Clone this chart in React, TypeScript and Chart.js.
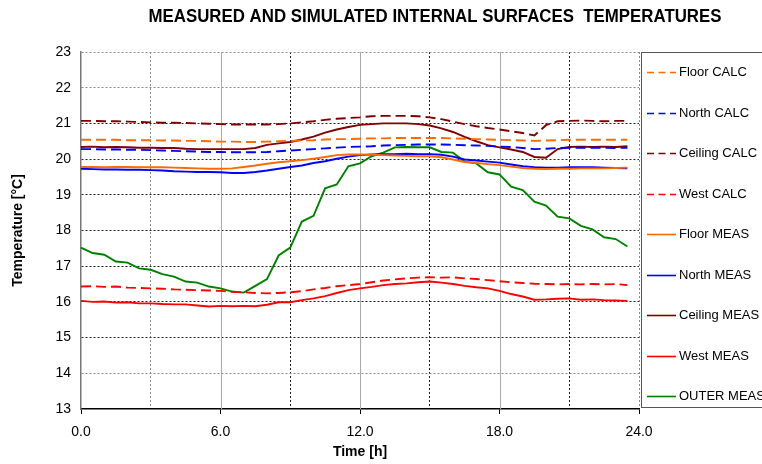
import React, { useEffect, useRef } from "react";
import { Chart, registerables } from "chart.js";

Chart.register(...registerables);

const hours = [
  0, 0.5, 1, 1.5, 2, 2.5, 3, 3.5, 4, 4.5, 5, 5.5, 6, 6.5, 7, 7.5, 8, 8.5, 9, 9.5, 10, 10.5, 11, 11.5,
  12, 12.5, 13, 13.5, 14, 14.5, 15, 15.5, 16, 16.5, 17, 17.5, 18, 18.5, 19, 19.5, 20, 20.5, 21, 21.5,
  22, 22.5, 23, 23.5,
];

const floorCalc = [
  20.54, 20.54, 20.54, 20.54, 20.53, 20.53, 20.53, 20.52, 20.52, 20.51, 20.51, 20.5, 20.49, 20.49, 20.48, 20.48,
  20.49, 20.5, 20.51, 20.52, 20.53, 20.55, 20.56, 20.56, 20.57, 20.58, 20.58, 20.59, 20.59, 20.59, 20.59, 20.59,
  20.58, 20.57, 20.56, 20.55, 20.54, 20.53, 20.52, 20.51, 20.52, 20.53, 20.54, 20.54, 20.54, 20.54, 20.54, 20.54,
];
const northCalc = [
  20.28, 20.28, 20.27, 20.27, 20.26, 20.26, 20.25, 20.24, 20.23, 20.22, 20.21, 20.2, 20.2, 20.19, 20.19, 20.19,
  20.2, 20.22, 20.24, 20.26, 20.28, 20.3, 20.32, 20.34, 20.35, 20.36, 20.38, 20.39, 20.4, 20.41, 20.41, 20.41,
  20.4, 20.39, 20.38, 20.37, 20.35, 20.34, 20.31, 20.28, 20.29, 20.31, 20.32, 20.32, 20.32, 20.32, 20.31, 20.32,
];
const ceilingCalc = [
  21.07, 21.07, 21.06, 21.06, 21.05, 21.04, 21.03, 21.02, 21.02, 21.01, 21.0, 20.99, 20.98, 20.97, 20.97, 20.97,
  20.97, 20.98, 21.0, 21.03, 21.06, 21.1, 21.13, 21.15, 21.17, 21.2, 21.21, 21.21, 21.21, 21.2, 21.17, 21.12,
  21.05, 20.98, 20.92, 20.87, 20.83, 20.78, 20.73, 20.66, 20.95, 21.06, 21.07, 21.08, 21.07, 21.06, 21.07, 21.07,
];
const westCalc = [
  16.43, 16.44, 16.42, 16.43, 16.4, 16.39, 16.38, 16.37, 16.35, 16.34, 16.33, 16.32, 16.31, 16.28, 16.27, 16.25,
  16.24, 16.25, 16.27, 16.3, 16.35, 16.39, 16.44, 16.47, 16.5, 16.55, 16.6, 16.63, 16.66, 16.68, 16.69, 16.68,
  16.69, 16.66, 16.64, 16.61, 16.58, 16.55, 16.53, 16.51, 16.5, 16.49, 16.5, 16.49, 16.5, 16.49, 16.5, 16.47,
];
const floorMeas = [
  19.78, 19.78, 19.77, 19.78, 19.78, 19.77, 19.77, 19.77, 19.76, 19.75, 19.74, 19.73, 19.73, 19.74, 19.78, 19.82,
  19.87, 19.91, 19.94, 19.97, 20.01, 20.06, 20.11, 20.13, 20.13, 20.12, 20.11, 20.1, 20.09, 20.08, 20.08, 20.05,
  19.99, 19.92, 19.89, 19.86, 19.83, 19.79, 19.75, 19.73, 19.72, 19.73, 19.73, 19.74, 19.74, 19.74, 19.75, 19.76,
];
const northMeas = [
  19.73, 19.72, 19.71, 19.71, 19.7, 19.7, 19.69, 19.68, 19.66, 19.65, 19.64, 19.64, 19.63, 19.61, 19.61, 19.64,
  19.68, 19.73, 19.78, 19.82, 19.89, 19.94, 20.01, 20.07, 20.11, 20.13, 20.14, 20.14, 20.15, 20.14, 20.14, 20.12,
  20.07, 19.99, 19.96, 19.93, 19.9, 19.85, 19.8, 19.77, 19.76, 19.76, 19.77, 19.77, 19.77, 19.76, 19.75, 19.74,
];
const ceilingMeas = [
  20.34, 20.35, 20.33, 20.34, 20.33, 20.32, 20.32, 20.31, 20.31, 20.29, 20.28, 20.28, 20.28, 20.28, 20.28, 20.31,
  20.4, 20.44, 20.48, 20.55, 20.63, 20.74, 20.83, 20.9, 20.96, 20.98, 21.0, 21.0, 21.0, 20.98, 20.94, 20.86,
  20.76, 20.62, 20.5, 20.39, 20.33, 20.27, 20.2, 20.06, 20.04, 20.28, 20.34, 20.35, 20.34, 20.35, 20.34, 20.36,
];
const westMeas = [
  16.03, 16.0, 16.01, 15.98, 15.99, 15.96, 15.96, 15.94, 15.93, 15.93, 15.9, 15.87, 15.89, 15.88, 15.89, 15.88,
  15.92, 15.99, 15.99, 16.05, 16.1, 16.16, 16.25, 16.33, 16.38, 16.42, 16.47, 16.5, 16.52, 16.55, 16.57, 16.54,
  16.5, 16.45, 16.41, 16.38, 16.31, 16.22, 16.15, 16.06, 16.07, 16.09, 16.1, 16.06, 16.07, 16.05, 16.04, 16.03,
];
const outerMeas = [
  17.52, 17.37, 17.32, 17.13, 17.1, 16.94, 16.9, 16.78, 16.71, 16.57, 16.54, 16.43, 16.38, 16.29, 16.26, 16.45,
  16.64, 17.3, 17.52, 18.25, 18.41, 19.18, 19.29, 19.8, 19.88, 20.08, 20.18, 20.33, 20.34, 20.33, 20.33, 20.2,
  20.18, 19.93, 19.88, 19.63, 19.57, 19.23, 19.13, 18.81, 18.7, 18.39, 18.34, 18.13, 18.03, 17.81, 17.76, 17.55,
];

const seriesNames = [
  "Floor CALC", "North CALC", "Ceiling CALC", "West CALC",
  "Floor MEAS", "North MEAS", "Ceiling MEAS", "West MEAS", "OUTER MEAS",
];
const seriesValues = [
  floorCalc, northCalc, ceilingCalc, westCalc,
  floorMeas, northMeas, ceilingMeas, westMeas, outerMeas,
];
const seriesColors = [
  "#FF6A00", "#0000FF", "#800000", "#FF0000",
  "#FF6A00", "#0000FF", "#800000", "#FF0000", "#008000",
];
const seriesDashed = [true, true, true, true, false, false, false, false, false];

const chartTitle = "MEASURED AND SIMULATED INTERNAL SURFACES  TEMPERATURES";
const xTitle = "Time [h]";
const yTitle = "Temperature [°C]";
const FONT = '"Liberation Sans", Arial, sans-serif';

const titlePlugin = {
  id: "condensedTitle",
  afterDraw(chart: any) {
    const ctx = chart.ctx;
    ctx.save();
    ctx.font = `bold 18px ${FONT}`;
    ctx.fillStyle = "#000";
    ctx.textBaseline = "middle";
    ctx.textAlign = "center";
    const w = ctx.measureText(chartTitle).width;
    const target = 573;
    ctx.translate(435, 17);
    ctx.scale(target / w, 1);
    ctx.fillText(chartTitle, 0, 0);
    ctx.restore();
  },
};

const solidGridPlugin = {
  id: "solidGrid",
  beforeDatasetsDraw(chart: any) {
    const ctx = chart.ctx;
    const xs = chart.scales.x;
    const area = chart.chartArea;
    ctx.save();
    ctx.strokeStyle = "#aaaaaa";
    ctx.lineWidth = 1;
    [6, 12, 18].forEach((v) => {
      const px = Math.round(xs.getPixelForValue(v)) + 0.5;
      ctx.beginPath();
      ctx.moveTo(px, area.top);
      ctx.lineTo(px, area.bottom);
      ctx.stroke();
    });
    ctx.restore();
  },
};

const legendPlugin = {
  id: "boxLegend",
  afterDraw(chart: any) {
    const ctx = chart.ctx;
    const area = chart.chartArea;
    const left = Math.round(area.right) + 2;
    ctx.save();
    ctx.strokeStyle = "#555";
    ctx.lineWidth = 1;
    ctx.strokeRect(left + 0.5, area.top + 0.5, 200, area.bottom - area.top - 2);
    ctx.font = `13px ${FONT}`;
    ctx.textBaseline = "middle";
    ctx.textAlign = "left";
    const first = area.top + 20;
    const step = 40.5;
    chart.data.datasets.forEach((ds: any, i: number) => {
      const y = Math.round(first + i * step) + 0.5;
      ctx.strokeStyle = ds.borderColor;
      ctx.lineWidth = 1.6;
      ctx.setLineDash(ds.borderDash && ds.borderDash.length ? [7, 4.5] : []);
      ctx.beginPath();
      ctx.moveTo(left + 6, y);
      ctx.lineTo(left + 35, y);
      ctx.stroke();
      ctx.setLineDash([]);
      ctx.fillStyle = "#000";
      ctx.fillText(ds.label, left + 38, y);
    });
    ctx.restore();
  },
};

export default function App() {
  const canvasRef = useRef<HTMLCanvasElement | null>(null);

  useEffect(() => {
    if (!canvasRef.current) return;
    const datasets = seriesNames.map((name, i) => ({
      label: name,
      data: hours.map((h, j) => ({ x: h, y: seriesValues[i][j] })),
      borderColor: seriesColors[i],
      backgroundColor: seriesColors[i],
      borderWidth: 1.9,
      borderDash: seriesDashed[i] ? [10, 5] : [],
      pointRadius: 0,
      tension: 0,
      fill: false,
    }));
    const chart = new Chart(canvasRef.current, {
      type: "line",
      data: { datasets },
      plugins: [solidGridPlugin, legendPlugin, titlePlugin],
      options: {
        animation: false,
        responsive: false,
        maintainAspectRatio: false,
        layout: { padding: { top: 52, right: 123, left: 0, bottom: 0 } },
        plugins: {
          legend: { display: false },
          title: { display: false },
          tooltip: { enabled: false },
        },
        scales: {
          x: {
            type: "linear",
            min: 0,
            max: 24,
            afterFit: (s: any) => {
              s.height = 55;
            },
            ticks: {
              stepSize: 3,
              autoSkip: false,
              maxRotation: 0,
              color: "#000",
              font: { family: FONT, size: 14 },
              padding: 10,
              callback: (v: any) => (Number(v) % 6 === 0 ? Number(v).toFixed(1) : ""),
            },
            grid: {
              color: (c: any) => {
                const v = c.tick ? c.tick.value : 0;
                if (v === 0 || (v % 6 === 0 && v !== 24)) return "rgba(0,0,0,0)";
                if (v === 3 || v === 24) return "#888";
                return "#222";
              },
              lineWidth: 1,
              tickLength: 5,
              tickColor: (c: any) => {
                const v = c.tick ? c.tick.value : 0;
                return v % 6 === 0 ? "#000" : "rgba(0,0,0,0)";
              },
              tickBorderDash: [],
              tickWidth: 1,
            },
            border: { display: true, color: "#000", width: 1.5, dash: [2, 2] },
            title: {
              display: true,
              text: xTitle,
              color: "#000",
              font: { family: FONT, size: 14, weight: "bold" },
              padding: { top: 0, bottom: 3 },
            },
          },
          y: {
            type: "linear",
            min: 13,
            max: 23,
            afterFit: (s: any) => {
              s.width = 81;
            },
            ticks: {
              stepSize: 1,
              color: "#000",
              font: { family: FONT, size: 14 },
              padding: 10,
            },
            grid: {
              color: (c: any) => {
                const v = c.tick ? c.tick.value : 0;
                if (v === 13) return "rgba(0,0,0,0)";
                if (v === 23 || v === 22 || v === 14) return "#888";
                return "#222";
              },
              lineWidth: 1,
              drawTicks: false,
            },
            border: { display: true, color: "#777", width: 1.5, dash: [2, 2] },
            title: {
              display: true,
              text: yTitle,
              color: "#000",
              font: { family: FONT, size: 14, weight: "bold" },
              padding: { top: 10, bottom: 0 },
            },
          },
        },
      },
    });
    return () => chart.destroy();
  }, []);

  return (
    <div style={{ position: "fixed", left: 0, top: 0, width: 762, height: 464, background: "#fff" }}>
      <canvas ref={canvasRef} width={762} height={464} style={{ width: 762, height: 464 }} />
    </div>
  );
}
